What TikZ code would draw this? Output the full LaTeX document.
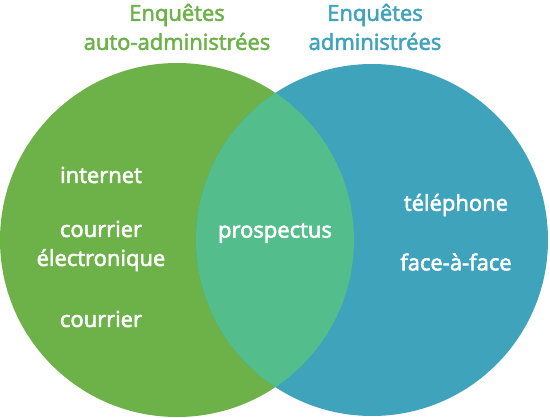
\documentclass[tikz,border=0pt]{standalone}
\usepackage{fontspec}
\newfontfamily\vennfont{Open Sans}[FakeBold=2.5]
\definecolor{autogreen}{HTML}{6DB249}
\definecolor{admblue}{HTML}{40A3BC}
\definecolor{bothmix}{HTML}{53BD8C}
\begin{document}
\begin{tikzpicture}[x=1pt,y=-1pt]
		\tikzstyle{title}=[align=center,font=\vennfont\fontsize{22}{29}\selectfont,inner sep=0pt]
		\tikzstyle{item}=[text=white,align=center,font=\vennfont\fontsize{22}{29}\selectfont,inner sep=0pt]
		\useasboundingbox (0,0) rectangle (550,418);
		% the two sets and their overlap
		\fill[autogreen] (177,240) circle[radius=177pt];
		\fill[admblue] (372,240) circle[radius=176pt];
		\begin{scope}
			\clip (177,240) circle[radius=177pt];
			\fill[bothmix] (372,240) circle[radius=176pt];
		\end{scope}
		\node[title,text=autogreen] (t_auto) at (177,27) {Enquêtes\\auto-administrées};
		\node[title,text=admblue] (t_adm) at (375,27) {Enquêtes\\administrées};
		\node[item] (i_1) at (101,175) {internet};
		\node[item] (i_2) at (101,246) {courrier\\électronique};
		\node[item] (i_3) at (101,319) {courrier};
		\node[item] (i_4) at (275,233) {prospectus};
		\node[item] (i_5) at (456,205) {téléphone};
		\node[item] (i_6) at (456,262) {face-à-face};
	\end{tikzpicture}
\end{document}
